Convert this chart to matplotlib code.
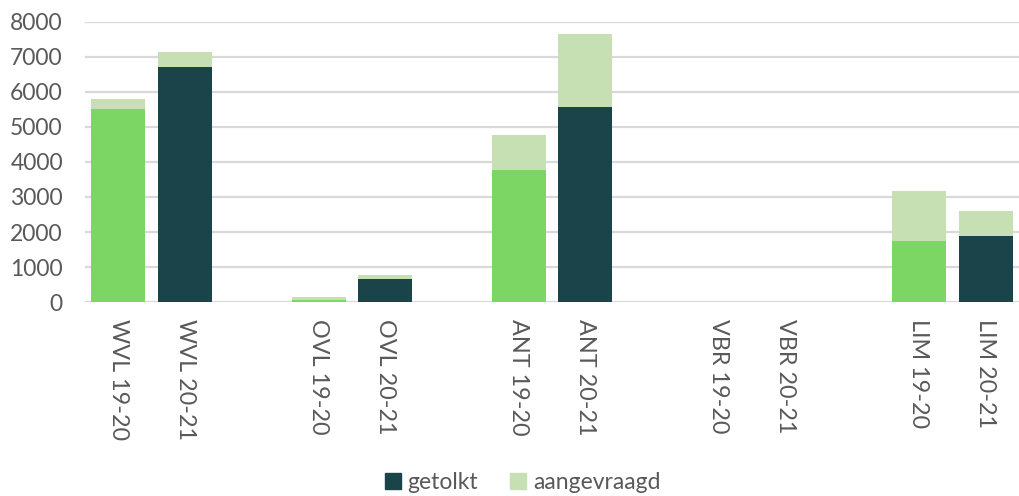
import matplotlib.pyplot as plt
from matplotlib.patches import Patch

# data
regios = ['WVL', 'OVL', 'ANT', 'VBR', 'LIM']
jaren = ['19-20', '20-21']
getolkt = [5500, 6700, 60, 660, 3780, 5580, 0, 0, 1745, 1890]
aangevraagd = [5800, 7130, 150, 770, 4780, 7660, 0, 0, 3170, 2600]

kleur_jaar = {'19-20': '#7BD663', '20-21': '#1B434A'}
kleur_aangevraagd = '#C6E0B4'
tekst = '#595959'

plt.rcParams['font.family'] = ['Lato', 'DejaVu Sans']

labels = []
posities = []
kleuren = []
for g, regio in enumerate(regios):
    for j, jaar in enumerate(jaren):
        labels.append(f'{regio} {jaar}')
        posities.append(g * 3 + j)
        kleuren.append(kleur_jaar[jaar])

rest = [a - b for a, b in zip(aangevraagd, getolkt)]

fig = plt.figure(figsize=(10.19, 4.96), dpi=100)
ax = fig.add_axes([0.0835, 0.391, 0.9165, 0.565])

ax.bar(posities, getolkt, width=0.81, color=kleuren, zorder=3)
ax.bar(posities, rest, bottom=getolkt, width=0.81, color=kleur_aangevraagd, zorder=3)

ax.set_xlim(-0.5, 13.5)
ax.set_ylim(0, 8000)
ax.set_yticks(range(0, 8001, 1000))
ax.set_xticks(posities)
ax.set_xticklabels(labels, rotation=-90, va='top', ha='center')

ax.grid(axis='y', color='#D9D9D9', linewidth=1.6, zorder=0)
for s in ax.spines.values():
    s.set_visible(False)
ax.tick_params(axis='y', length=0, pad=16, labelsize=16.5, labelcolor=tekst)
ax.tick_params(axis='x', length=0, pad=12, labelsize=16.8, labelcolor=tekst)

handles = [Patch(color='#1B434A', label='getolkt'),
           Patch(color=kleur_aangevraagd, label='aangevraagd')]
fig.legend(handles=handles, loc='center', bbox_to_anchor=(0.513, 0.027), ncol=2,
           frameon=False, fontsize=16.5, labelcolor=tekst, handlelength=0.7,
           handleheight=0.7, handletextpad=0.3, columnspacing=1.4)

fig.savefig('out.png', dpi=100)
